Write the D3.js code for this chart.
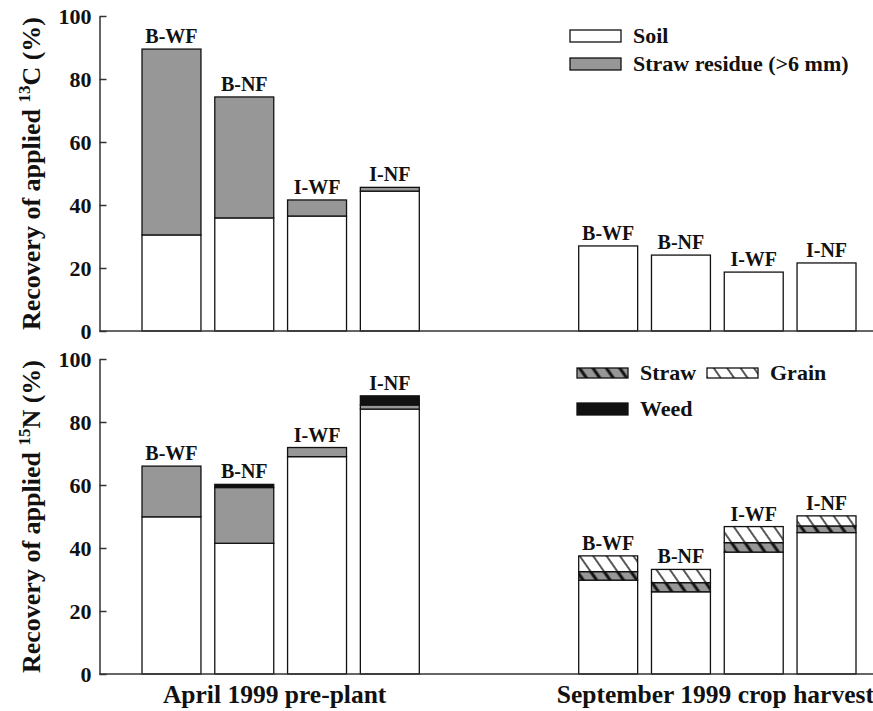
<!DOCTYPE html>
<html>
<head>
<meta charset="utf-8">
<script src="https://cdn.jsdelivr.net/npm/d3@7"></script>
<style>
  body { margin: 0; background: #fff; }
  svg text { font-family: "Liberation Serif", "Times New Roman", serif; font-weight: bold; fill: #111; }
  .axis path, .axis line { stroke: #333; stroke-width: 1.5; }
</style>
</head>
<body>
<script>
const treatments = ["B-WF", "B-NF", "I-WF", "I-NF"];
const periods = ["April 1999 pre-plant", "September 1999 crop harvest"];
const yTicks = [0, 20, 40, 60, 80, 100];

// 13C recovery (%)
const cSoilApr = [30.5, 35.9, 36.5, 44.4];
const cResidueApr = [59.0, 38.4, 5.1, 1.2];
const cSoilSep = [27.0, 24.1, 18.7, 21.6];

// 15N recovery (%)
const nSoilApr = [49.9, 41.5, 69.0, 84.1];
const nResidueApr = [16.1, 17.7, 2.9, 1.3];
const nWeedApr = [0, 1.0, 0, 2.9];
const nSoilSep = [29.8, 26.1, 38.7, 44.9];
const nStrawSep = [2.7, 2.9, 3.0, 2.1];
const nGrainSep = [5.0, 4.2, 5.1, 3.2];

const width = 873, height = 711;
const axisX = 99.5;

const svg = d3.select("body").append("svg")
  .attr("width", width)
  .attr("height", height);

const defs = svg.append("defs");
function hatch(id, bg, lineW) {
  const p = defs.append("pattern")
    .attr("id", id)
    .attr("patternUnits", "userSpaceOnUse")
    .attr("width", 11)
    .attr("height", 11)
    .attr("patternTransform", "rotate(-35)");
  p.append("rect").attr("width", 11).attr("height", 11).attr("fill", bg);
  p.append("line")
    .attr("x1", 2).attr("y1", 0).attr("x2", 2).attr("y2", 11)
    .attr("stroke", "#111").attr("stroke-width", lineW);
}
hatch("hatch-straw", "#979797", 3);
hatch("hatch-grain", "#fff", 1.4);

const fills = {
  soil: "#fff",
  residue: "#979797",
  weed: "#111",
  straw: "url(#hatch-straw)",
  grain: "url(#hatch-grain)"
};

// slots: 4 April bars, 2 empty slots, 4 September bars
const slots = [
  ...treatments.map((t) => "Apr|" + t),
  "gap1", "gap2",
  ...treatments.map((t) => "Sep|" + t)
];
const x = d3.scaleBand().domain(slots).range([142, 856]).paddingInner(0.19).paddingOuter(0);

const panels = [
  {
    top: 16, bottom: 331,
    label: ["Recovery of applied ", "13", "C (%)"],
    groups: [
      { prefix: "Apr|", keys: ["soil", "residue"], series: { soil: cSoilApr, residue: cResidueApr } },
      { prefix: "Sep|", keys: ["soil"], series: { soil: cSoilSep } }
    ]
  },
  {
    top: 359, bottom: 674,
    label: ["Recovery of applied ", "15", "N (%)"],
    groups: [
      { prefix: "Apr|", keys: ["soil", "residue", "weed"], series: { soil: nSoilApr, residue: nResidueApr, weed: nWeedApr } },
      { prefix: "Sep|", keys: ["soil", "straw", "grain"], series: { soil: nSoilSep, straw: nStrawSep, grain: nGrainSep } }
    ]
  }
];

panels.forEach((panel) => {
  const y = d3.scaleLinear().domain([0, 100]).range([panel.bottom, panel.top]);
  const g = svg.append("g");

  panel.groups.forEach((grp) => {
    const rows = treatments.map((t, i) => {
      const r = { key: grp.prefix + t, name: t };
      grp.keys.forEach((k) => (r[k] = grp.series[k][i]));
      return r;
    });
    const stacked = d3.stack().keys(grp.keys)(rows);

    stacked.forEach((layer) => {
      g.append("g")
        .selectAll("rect")
        .data(layer.filter((d) => d[1] - d[0] > 0))
        .join("rect")
        .attr("x", (d) => x(d.data.key))
        .attr("width", x.bandwidth())
        .attr("y", (d) => y(d[1]))
        .attr("height", (d) => y(d[0]) - y(d[1]))
        .attr("fill", fills[layer.key])
        .attr("stroke", "#111")
        .attr("stroke-width", 1.3);
    });

    const last = stacked[stacked.length - 1];
    g.append("g")
      .selectAll("text")
      .data(last)
      .join("text")
      .attr("x", (d) => x(d.data.key) + x.bandwidth() / 2)
      .attr("y", (d) => y(d[1]) - 6)
      .attr("text-anchor", "middle")
      .attr("font-size", 20)
      .text((d) => d.data.name);
  });

  // y axis, ticks pointing inward
  g.append("g")
    .attr("class", "axis")
    .attr("transform", `translate(${axisX},0)`)
    .call(d3.axisLeft(y).tickValues(yTicks).tickSizeInner(-7).tickSizeOuter(0).tickPadding(8))
    .call((a) => a.selectAll("text").attr("font-size", 22).attr("fill", "#111").style("font-family", null));

  // baseline
  g.append("line")
    .attr("x1", axisX).attr("x2", width)
    .attr("y1", y(0)).attr("y2", y(0))
    .attr("stroke", "#333").attr("stroke-width", 1.5);

  // y title with superscript
  const t = g.append("text")
    .attr("transform", `translate(40,${(panel.top + panel.bottom) / 2}) rotate(-90)`)
    .attr("text-anchor", "middle")
    .attr("font-size", 26);
  t.append("tspan").text(panel.label[0]);
  t.append("tspan").attr("font-size", 17).attr("dy", -10).text(panel.label[1]);
  t.append("tspan").attr("dy", 10).text(panel.label[2]);
});

// x group labels
const groupCenters = [
  (x(slots[0]) + x(slots[3]) + x.bandwidth()) / 2 - 6,
  (x(slots[6]) + x(slots[9]) + x.bandwidth()) / 2 - 2
];
svg.append("g")
  .selectAll("text")
  .data(periods)
  .join("text")
  .attr("x", (d, i) => groupCenters[i])
  .attr("y", 703)
  .attr("text-anchor", "middle")
  .attr("font-size", 25.5)
  .text((d) => d);

// legends
function legend(items, x0, y0) {
  const lg = svg.append("g").attr("transform", `translate(${x0},${y0})`);
  items.forEach((it) => {
    lg.append("rect")
      .attr("x", it.dx).attr("y", it.dy)
      .attr("width", 51).attr("height", it.h)
      .attr("fill", fills[it.key])
      .attr("stroke", "#111").attr("stroke-width", 1.3);
    lg.append("text")
      .attr("x", it.dx + 63)
      .attr("y", it.dy + it.h / 2 + 7)
      .attr("font-size", 22)
      .text(it.name);
  });
}
legend([
  { key: "soil", name: "Soil", dx: 0, dy: 0, h: 12 },
  { key: "residue", name: "Straw residue (>6 mm)", dx: 0, dy: 28, h: 12 }
], 570, 30);
legend([
  { key: "straw", name: "Straw", dx: 0, dy: 0, h: 10 },
  { key: "grain", name: "Grain", dx: 130, dy: 0, h: 10 },
  { key: "weed", name: "Weed", dx: 0, dy: 35, h: 12 }
], 577, 368);
</script>
</body>
</html>
